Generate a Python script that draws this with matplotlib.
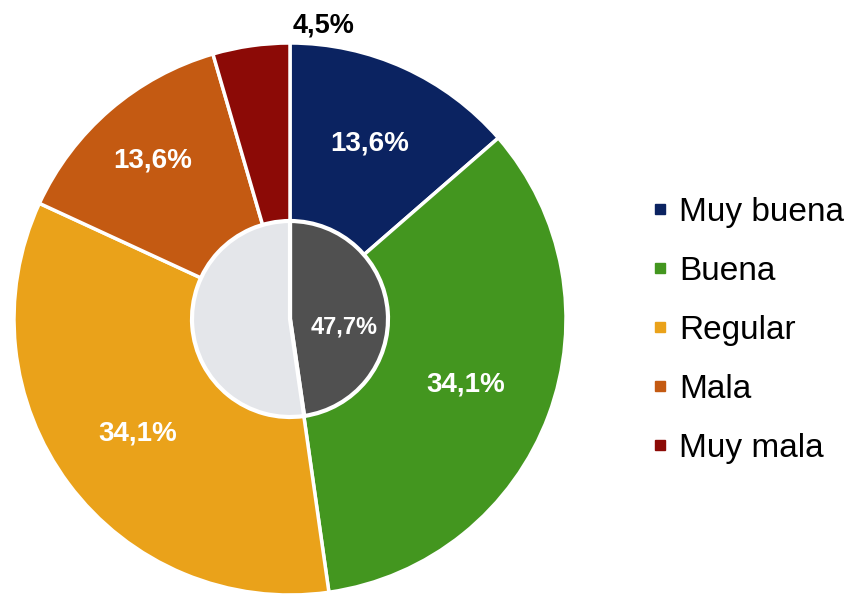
import matplotlib
matplotlib.use("Agg")
import matplotlib.pyplot as plt
import numpy as np
from matplotlib.lines import Line2D

categories = ["Muy buena", "Buena", "Regular", "Mala", "Muy mala"]
values = [13.6, 34.1, 34.1, 13.6, 4.5]
colors = ["#0B2361", "#43961F", "#EAA21A", "#C45A12", "#8C0A06"]
label_text = ["13,6%", "34,1%", "34,1%", "13,6%", "4,5%"]

inner_values = [47.7, 52.3]
inner_colors = ["#505050", "#E4E6EA"]
inner_label = "47,7%"

plt.rcParams["font.family"] = ["Liberation Sans", "DejaVu Sans"]

fig = plt.figure(figsize=(8.48, 5.94), dpi=100)
ax = fig.add_axes([0, 0, 1, 1])

cx, cy, r_out, r_in = 290, 594 - 319, 276, 98

wedges, _ = ax.pie(values, colors=colors, startangle=90, counterclock=False,
                   radius=r_out, center=(cx, cy),
                   wedgeprops=dict(edgecolor="white", linewidth=2.5))
ax.pie(inner_values, colors=inner_colors, startangle=90, counterclock=False,
       radius=r_in, center=(cx, cy),
       wedgeprops=dict(edgecolor="white", linewidth=3))

# outer labels
dist = [0.70, 0.68, 0.69, 0.76, 1.07]
cum = np.cumsum([0] + values)
for i, txt in enumerate(label_text):
    mid = 90 - (cum[i] + values[i] / 2) * 3.6
    if i == 4:
        mid = 83.5
    x = cx + dist[i] * r_out * np.cos(np.radians(mid))
    y = cy + dist[i] * r_out * np.sin(np.radians(mid))
    ax.text(x, y, txt, ha="center", va="center", fontsize=20 if i < 4 else 19.5,
            fontweight="bold", color="white" if i < 4 else "black")

mid_in = 90 - inner_values[0] / 2 * 3.6
ax.text(cx + 0.55 * r_in * np.cos(np.radians(mid_in)),
        cy + 0.55 * r_in * np.sin(np.radians(mid_in)) - 12,
        inner_label, ha="center", va="center", fontsize=17,
        fontweight="bold", color="white")

ax.set_xlim(0, 848)
ax.set_ylim(0, 594)
ax.set_aspect("equal")
ax.axis("off")

handles = [Line2D([], [], marker="s", ls="", color=c, markersize=7) for c in colors]
ax.legend(handles, categories, loc="center left", bbox_to_anchor=(652 / 848, 1 - 330 / 594),
          frameon=False, fontsize=24, handlelength=0.5, handletextpad=0.31,
          labelspacing=0.84, borderpad=0, borderaxespad=0)

fig.savefig("out.png", dpi=100)
